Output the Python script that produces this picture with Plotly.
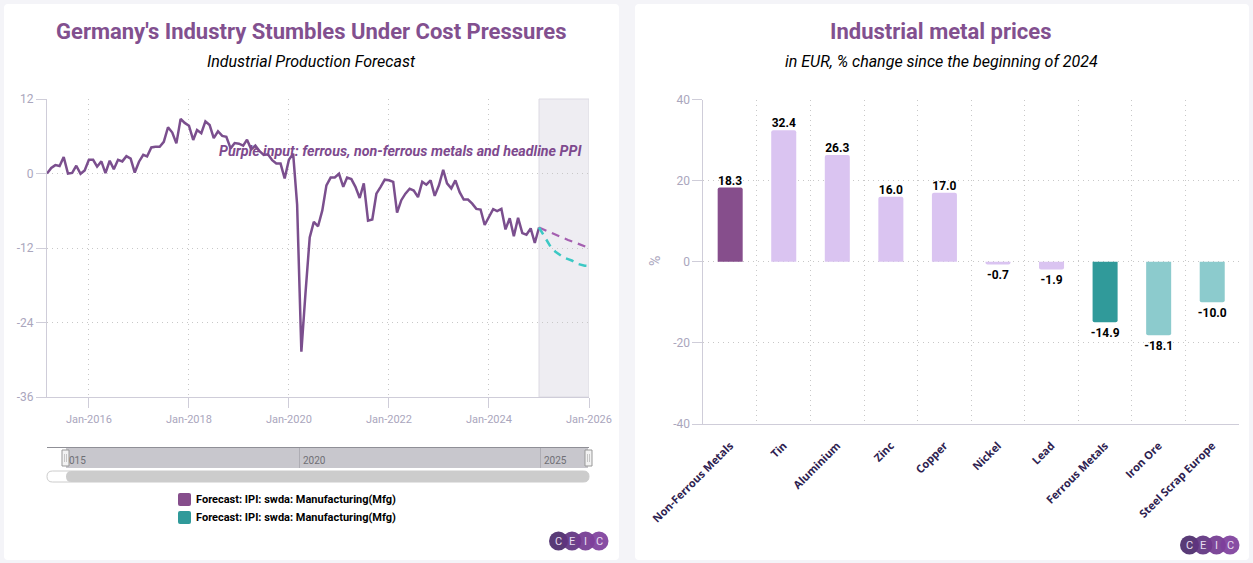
"""Germany industrial production forecast and industrial metal prices, two card layout."""

import pandas as pd
import plotly.graph_objects as go

W, H = 1253, 563

# monthly index, Mar 2015 to Jan 2025
history_start = "2015-03-01"
history_values = [
    0.0, 0.9, 1.35, 1.2, 2.65, 0.0, 0.1, 1.25, -0.05, 0.5,
    2.2, 2.2, 1.1, 1.95, 0.05, 2.05, 0.7, 2.2, 1.95, 2.8,
    2.4, 0.15, 1.9, 3.0, 2.75, 4.2, 4.3, 4.3, 5.1, 7.45,
    6.6, 4.85, 8.8, 8.15, 7.7, 5.4, 7.0, 6.5, 8.4, 7.8,
    5.7, 6.8, 6.05, 5.9, 4.05, 4.9, 4.8, 4.5, 5.45, 3.9,
    4.5, 3.6, 3.0, 3.1, 2.15, 1.6, 1.6, -0.8, 2.2, 3.2,
    -5.0, -28.7, -19.3, -10.3, -7.8, -8.5, -5.95, -1.9, -0.65, -0.65,
    -0.05, -2.15, -0.65, -0.9, -2.15, -3.95, -1.6, -7.6, -7.4, -3.25,
    -2.15, -1.0, -1.1, -1.35, -6.3, -4.3, -3.25, -2.45, -2.75, -3.8,
    -1.35, -1.8, -1.1, -3.6, -1.9, 0.6, -1.6, -2.4, -1.1, -3.0,
    -4.2, -4.2, -4.85, -5.7, -5.8, -8.3, -7.0, -5.75, -6.05, -5.7,
    -9.0, -7.2, -10.1, -7.15, -9.6, -9.85, -8.85, -11.2, -8.7,
]

# forecasts, Jan 2025 to Jan 2026
forecast_start = "2025-01-01"
forecast_purple = [-8.7, -9.0, -9.3, -9.6, -9.85, -10.1, -10.4, -10.7, -10.95, -11.2, -11.45, -11.7, -12.0]
forecast_teal = [-8.7, -9.85, -11.0, -12.0, -12.6, -13.1, -13.55, -13.8, -14.05, -14.5, -14.7, -14.85, -14.9]

production_ticks = [-36, -24, -12, 0, 12]
production_tick_labels = ["-36", "-24", "-12", "0", "12"]

metals = ["Non-Ferrous Metals", "Tin", "Aluminium", "Zinc", "Copper", "Nickel", "Lead",
          "Ferrous Metals", "Iron Ore", "Steel Scrap Europe"]
metal_changes = [18.3, 32.4, 26.3, 16.0, 17.0, -0.7, -1.9, -14.9, -18.1, -10.0]
metal_colors = ["#864e8c", "#dac4f1", "#dac4f1", "#dac4f1", "#dac4f1", "#dac4f1", "#dac4f1",
                "#309a9a", "#8ccbcd", "#8ccbcd"]
metal_ticks = [-40, -20, 0, 20, 40]
metal_tick_labels = ["-40", "-20", "0", "20", "40"]

legend_labels = ["Forecast: IPI: swda: Manufacturing(Mfg)", "Forecast: IPI: swda: Manufacturing(Mfg)"]
legend_colors = ["#864e8c", "#309a9a"]

FONT = "Roboto"
TITLE_PURPLE = "#82508f"
AXIS_LINE = "#cfcdd9"
GRID = "#c8c8c8"
GRID_DASH = "1px,4px"
TICK_TEXT = "#aaa6bd"


def px(x):
    return x / W


def py(y):
    return 1 - y / H


def rounded_rect(x0, y0, x1, y1, r):
    return (f"M {px(x0 + r)} {py(y0)} L {px(x1 - r)} {py(y0)} Q {px(x1)} {py(y0)} {px(x1)} {py(y0 + r)} "
            f"L {px(x1)} {py(y1 - r)} Q {px(x1)} {py(y1)} {px(x1 - r)} {py(y1)} "
            f"L {px(x0 + r)} {py(y1)} Q {px(x0)} {py(y1)} {px(x0)} {py(y1 - r)} "
            f"L {px(x0)} {py(y0 + r)} Q {px(x0)} {py(y0)} {px(x0 + r)} {py(y0)} Z")


def paper_rect(x0, y0, x1, y1, fill, line=None, layer="below"):
    return dict(type="rect", xref="paper", yref="paper", x0=px(x0), x1=px(x1), y0=py(y1), y1=py(y0),
                fillcolor=fill, line=dict(color=line or fill, width=1 if line else 0), layer=layer)


def text_at(x, y, text, size, color, bold=False, italic=False, anchor="center", angle=0):
    return dict(xref="paper", yref="paper", x=px(x), y=py(y), text=text, showarrow=False,
                xanchor=anchor, yanchor="middle", textangle=angle,
                font=dict(family=FONT, size=size, color=color,
                          weight="bold" if bold else "normal",
                          style="italic" if italic else "normal"))


def ceic_logo(x0, y0):
    shapes, notes = [], []
    fills = ["#4b2a6b", "#5f3380", "#733a90", "#7e3f9c"]
    for i, (letter, fill) in enumerate(zip("CEIC", fills)):
        cx = x0 + 9.5 + i * 13.5
        shapes.append(dict(type="circle", xref="paper", yref="paper", layer="above",
                           x0=px(cx - 9.5), x1=px(cx + 9.5), y0=py(y0 + 18.5), y1=py(y0 - 0.5),
                           fillcolor=fill, opacity=0.92, line=dict(width=0)))
        notes.append(text_at(cx, y0 + 9, letter, 11, "#e8dcf0"))
    return shapes, notes


history_dates = pd.date_range(history_start, periods=len(history_values), freq="MS")
forecast_dates = pd.date_range(forecast_start, periods=len(forecast_purple), freq="MS")

fig = go.Figure()
fig.add_trace(go.Scatter(x=history_dates, y=history_values, mode="lines", xaxis="x", yaxis="y",
                         line=dict(color="#7b4f8e", width=2.5), showlegend=False))
fig.add_trace(go.Scatter(x=forecast_dates, y=forecast_purple, mode="lines", xaxis="x", yaxis="y",
                         line=dict(color="#a45fb0", width=2.2, dash="8px,6px"), showlegend=False))
fig.add_trace(go.Scatter(x=forecast_dates, y=forecast_teal, mode="lines", xaxis="x", yaxis="y",
                         line=dict(color="#3bc8c4", width=2.5, dash="8px,6px"), showlegend=False))
fig.add_trace(go.Bar(x=metals, y=metal_changes, xaxis="x2", yaxis="y2", marker_color=metal_colors,
                     marker_line_width=0, width=0.467, showlegend=False))
# value labels as a text trace, bar "outside" text sits too far from the bar
# invisible markers only push the labels below the negative bars a bit further
fig.add_trace(go.Scatter(x=metals, y=metal_changes, xaxis="x2", yaxis="y2", mode="markers+text",
                         text=[f"{v:.1f}" for v in metal_changes],
                         textposition=["top center" if v > 0 else "bottom center" for v in metal_changes],
                         marker=dict(size=[0 if v > 0 else 7 for v in metal_changes], opacity=0),
                         cliponaxis=False, showlegend=False,
                         textfont=dict(family=FONT, size=12, color="#000000", weight="bold")))

shapes = [
    dict(type="path", xref="paper", yref="paper", path=rounded_rect(4, 4, 619, 560, 4),
         fillcolor="#ffffff", line=dict(width=0), layer="below"),
    dict(type="path", xref="paper", yref="paper", path=rounded_rect(635, 4, 1249, 560, 4),
         fillcolor="#ffffff", line=dict(width=0), layer="below"),
    # forecast window
    dict(type="rect", xref="x", yref="paper", x0="2025-01-01", x1="2026-01-01",
         y0=py(397), y1=py(99), fillcolor="#eeedf2", line=dict(color="#dcdae3", width=1), layer="below"),
    # navigator
    paper_rect(66, 448, 588, 468, "#c8c7cd"),
    paper_rect(47, 447, 589, 448, "#8f8f96"),
    paper_rect(299, 448, 300, 468, "#aeadb4"),
    paper_rect(540, 448, 541, 468, "#aeadb4"),
    dict(type="path", xref="paper", yref="paper", path=rounded_rect(47, 471, 589, 482, 5.5),
         fillcolor="#ffffff", line=dict(color="#cccccc", width=1), layer="below"),
    dict(type="path", xref="paper", yref="paper", path=rounded_rect(66, 471, 589, 482, 5.5),
         fillcolor="#cccccc", line=dict(width=0), layer="below"),
    paper_rect(62, 450, 69, 466, "#f2f2f2", "#999999", "above"),
    paper_rect(585, 450, 592, 466, "#f2f2f2", "#999999", "above"),
    paper_rect(64.5, 454, 65, 462, "#999999", None, "above"),
    paper_rect(66.5, 454, 67, 462, "#999999", None, "above"),
    paper_rect(587.5, 454, 588, 462, "#999999", None, "above"),
    paper_rect(589.5, 454, 590, 462, "#999999", None, "above"),
]

annotations = [
    text_at(311, 31, "Germany's Industry Stumbles Under Cost Pressures", 22, TITLE_PURPLE, bold=True),
    text_at(311, 61, "Industrial Production Forecast", 16, "#000000", italic=True),
    text_at(941, 31, "Industrial metal prices", 22, TITLE_PURPLE, bold=True),
    text_at(941, 61, "in EUR, % change since the beginning of 2024", 16, "#000000", italic=True),
    text_at(400, 151, "Purple input: ferrous, non-ferrous metals and headline PPI", 14.25, "#7e4a8e",
            bold=True, italic=True),
    text_at(655, 261, "%", 14, TICK_TEXT, angle=-90),
    text_at(67, 460.5, "015", 10, "#6f6f75", anchor="left"),
    text_at(301, 460.5, "2020", 10, "#6f6f75", anchor="left"),
    text_at(542, 460.5, "2025", 10, "#6f6f75", anchor="left"),
]

for i, (label, color) in enumerate(zip(legend_labels, legend_colors)):
    top = 493 + i * 18
    shapes.append(dict(type="path", xref="paper", yref="paper", fillcolor=color, line=dict(width=0), layer="below",
                       path=rounded_rect(178, top, 191, top + 13, 2)))
    annotations.append(text_at(194, top + 6, label, 11, "#000000", bold=True, anchor="left"))

for x0, y0 in [(549, 532), (1180, 536)]:
    logo_shapes, logo_notes = ceic_logo(x0, y0)
    shapes += logo_shapes
    annotations += logo_notes

fig.update_layout(
    width=W, height=H, margin=dict(l=0, r=0, t=0, b=0),
    paper_bgcolor="#f4f4f8", plot_bgcolor="rgba(0,0,0,0)",
    font=dict(family=FONT, size=12, color=TICK_TEXT),
    shapes=shapes, annotations=annotations, bargap=0.53, barcornerradius=2, hovermode=False,
    xaxis=dict(domain=[px(47), px(589)], type="date", range=["2015-03-01", "2026-01-01"],
               tick0="2016-01-01", dtick="M24", tickformat="%b-%Y", ticks="outside", ticklen=10,
               tickcolor=AXIS_LINE, showline=True, linecolor=AXIS_LINE, showgrid=True,
               gridcolor=GRID, griddash=GRID_DASH, zeroline=False, anchor="y", automargin=False,
               ticklabelstandoff=2, tickfont=dict(family=FONT, size=11, color=TICK_TEXT)),
    yaxis=dict(domain=[py(397), py(99)], range=[-36, 12], tickvals=production_ticks,
               ticktext=production_tick_labels,
               ticks="outside", ticklen=10, tickcolor=AXIS_LINE, showline=True, linecolor=AXIS_LINE,
               showgrid=True, gridcolor=GRID, griddash=GRID_DASH, zeroline=False, anchor="x", automargin=False,
               tickfont=dict(family=FONT, size=12, color=TICK_TEXT)),
    xaxis2=dict(domain=[px(703.4), px(1239)], type="category", range=[-0.5, len(metals) - 0.5],
                tickson="boundaries", ticks="",
                tickangle=-45, showline=True, linecolor=AXIS_LINE, showgrid=True, gridcolor=GRID,
                griddash=GRID_DASH, zeroline=False, anchor="y2", ticklabelstandoff=10, automargin=False,
                tickfont=dict(family="Open Sans", size=11, color="#2e2250", weight=700)),
    yaxis2=dict(domain=[py(424), py(99.5)], range=[-40, 40], tickvals=metal_ticks,
                ticktext=metal_tick_labels,
                ticks="outside", ticklen=10, tickcolor=AXIS_LINE, showline=True, linecolor=AXIS_LINE,
                showgrid=True, gridcolor=GRID, griddash=GRID_DASH, zeroline=False, anchor="x2", automargin=False,
                tickfont=dict(family=FONT, size=12, color=TICK_TEXT)),
)

# page margin would shift the whole figure by 8px
fig.write_html("out.html", config={"displayModeBar": False}, post_script="document.body.style.margin = '0';")
